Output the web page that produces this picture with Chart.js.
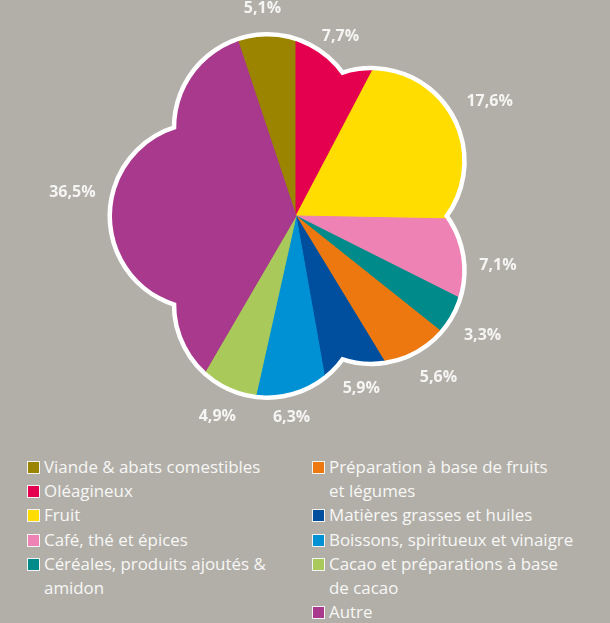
<!DOCTYPE html>
<html>
<head>
<meta charset="utf-8">
<script src="https://cdn.jsdelivr.net/npm/chart.js@4/dist/chart.umd.min.js"></script>
<style>
body{margin:0;background:#b2afa9;width:610px;height:623px;overflow:hidden;position:relative;font-family:"Open Sans",sans-serif;}
#chart{position:absolute;left:0;top:0;}
#legend{position:absolute;left:27px;top:455px;display:flex;color:#f7f7f5;font-size:16.9px;line-height:24.2px;}
.col{width:285px}
.item{display:flex;align-items:flex-start}
.box{width:11px;height:11px;border:1px solid #f4f4f2;margin:6px 4px 0 0;flex:none}
.txt{white-space:pre-line}
</style>
</head>
<body>
<canvas id="chart" width="610" height="450"></canvas>
<div id="legend"></div>
<script>
const categories = [
  'Viande & abats comestibles',
  'Oléagineux',
  'Fruit',
  'Café, thé et épices',
  'Céréales, produits ajoutés &\namidon',
  'Préparation à base de fruits\net légumes',
  'Matières grasses et huiles',
  'Boissons, spiritueux et vinaigre',
  'Cacao et préparations à base\nde cacao',
  'Autre'
];
const shares = [5.1, 7.7, 17.6, 7.1, 3.3, 5.6, 5.9, 6.3, 4.9, 36.5];
const colors = ['#9a8400', '#e4004e', '#ffdd00', '#ee82b4', '#008b8a',
                '#ed7810', '#004f9e', '#0091d5', '#a9ca5a', '#a8398c'];

const total = shares.reduce((a, b) => a + b, 0);

// flower outline: 5 round petals
function petalGeom(R) {
  const m = R * 0.992, n = R * 0.798;
  const c36 = Math.cos(Math.PI / 5);
  const d = (m * m - n * n) / (2 * (m - n * c36));
  return {m, n, d, rp: m - d};
}
function petalAngles() {
  let a = [];
  for (let k = 0; k < 5; k++) a.push((342 + 72 * k - 90) * Math.PI / 180);
  return a;
}
function flowerPath(ctx, x, y, R) {
  const g = petalGeom(R);
  ctx.beginPath();
  petalAngles().forEach(phi => {
    const cx = x + g.d * Math.cos(phi), cy = y + g.d * Math.sin(phi);
    const p1 = [x + g.n * Math.cos(phi - Math.PI / 5), y + g.n * Math.sin(phi - Math.PI / 5)];
    const p2 = [x + g.n * Math.cos(phi + Math.PI / 5), y + g.n * Math.sin(phi + Math.PI / 5)];
    const a1 = Math.atan2(p1[1] - cy, p1[0] - cx);
    const a2 = Math.atan2(p2[1] - cy, p2[0] - cx);
    ctx.arc(cx, cy, g.rp, a1, a2, false);
  });
  ctx.closePath();
}
function outlineRadius(alpha, R) {
  const g = petalGeom(R);
  let best = g.n;
  petalAngles().forEach(phi => {
    const dl = alpha - phi;
    const c = Math.cos(dl), s = Math.sin(dl);
    const disc = g.rp * g.rp - g.d * g.d * s * s;
    if (c > 0 && disc >= 0) best = Math.max(best, g.d * c + Math.sqrt(disc));
  });
  return best;
}

const flower = {
  id: 'flower',
  beforeDatasetsDraw(chart) {
    const arc = chart.getDatasetMeta(0).data[0];
    const ctx = chart.ctx;
    ctx.save();
    flowerPath(ctx, arc.x, arc.y, arc.outerRadius);
    ctx.lineWidth = 9;
    ctx.strokeStyle = '#ffffff';
    ctx.stroke();
    ctx.clip();
  },
  afterDatasetsDraw(chart) {
    chart.ctx.restore();
  }
};

const pctLabels = {
  id: 'pctLabels',
  afterDraw(chart) {
    const ctx = chart.ctx;
    ctx.save();
    ctx.font = 'bold 16px "Open Sans"';
    ctx.fillStyle = '#f5f5f3';
    ctx.textAlign = 'center';
    ctx.textBaseline = 'middle';
    chart.getDatasetMeta(0).data.forEach((arc, i) => {
      const txt = shares[i].toFixed(1).replace('.', ',') + '%';
      const mid = (arc.startAngle + arc.endAngle) / 2;
      const w = ctx.measureText(txt).width;
      const ext = Math.abs(Math.cos(mid)) * w / 2 + Math.abs(Math.sin(mid)) * 7.5;
      const r = outlineRadius(mid, arc.outerRadius) + 18 + ext;
      ctx.fillText(txt, arc.x + r * Math.cos(mid), arc.y + r * Math.sin(mid));
    });
    ctx.restore();
  }
};

new Chart(document.getElementById('chart'), {
  type: 'pie',
  data: {
    labels: categories,
    datasets: [{
      data: shares,
      backgroundColor: colors,
      borderColor: colors,
      borderWidth: 1
    }]
  },
  options: {
    responsive: false,
    animation: false,
    rotation: -shares[0] / total * 360,
    layout: {padding: {left: 110, right: 128, top: 30, bottom: 48}},
    plugins: {legend: {display: false}, tooltip: {enabled: false}}
  },
  plugins: [flower, pctLabels]
});

// legend in two columns
const legend = document.getElementById('legend');
[categories.slice(0, 5), categories.slice(5)].forEach((col, c) => {
  const div = document.createElement('div');
  div.className = 'col';
  col.forEach((name, j) => {
    const i = c * 5 + j;
    const item = document.createElement('div');
    item.className = 'item';
    item.innerHTML = '<span class="box" style="background:' + colors[i] + '"></span><span class="txt"></span>';
    item.querySelector('.txt').textContent = name;
    div.appendChild(item);
  });
  legend.appendChild(div);
});
</script>
</body>
</html>
